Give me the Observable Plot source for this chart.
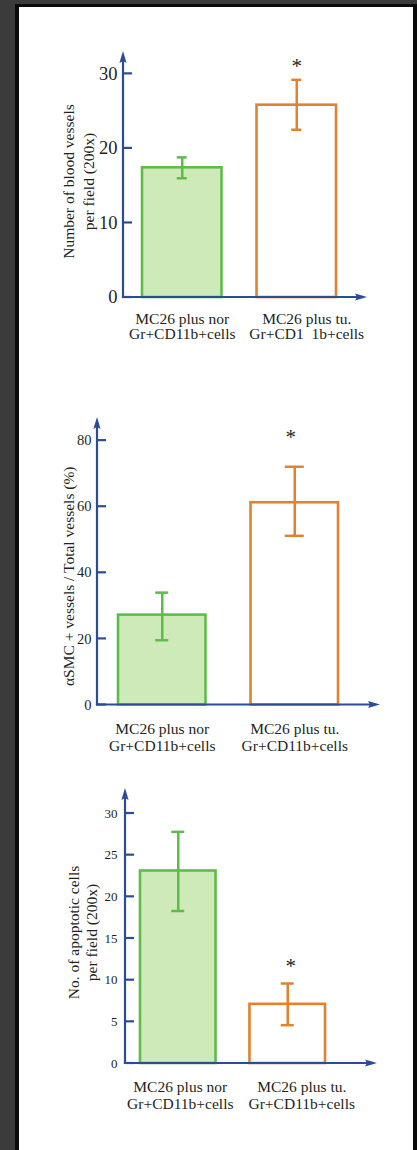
<!DOCTYPE html>
<html><head><meta charset="utf-8">
<script src="https://cdn.jsdelivr.net/npm/d3@7"></script>
<script src="https://cdn.jsdelivr.net/npm/@observablehq/plot@0.6"></script>
<style>
html,body{margin:0;padding:0;background:#3b3b3b;}
body{width:417px;height:1150px;position:relative;overflow:hidden;font-family:"Liberation Serif",serif;}
#edge{position:absolute;left:15px;top:4px;width:402px;height:1146px;background:#0b0b0b;}
#panel{position:absolute;left:19px;top:7px;width:394px;height:1143px;background:#fff;}
.chart{position:absolute;left:0;width:417px;}
.chart svg, .chart svg text{font-family:"Liberation Serif","Times New Roman",serif !important;}
</style></head><body>
<div id="edge"></div><div id="panel"></div>
<div id="c1" class="chart" style="top:0px"></div>
<div id="c2" class="chart" style="top:390px"></div>
<div id="c3" class="chart" style="top:770px"></div>
<script>
// ---------- data ----------
const vesselCategories = ["MC26 plus nor\nGr+CD11b+cells", "MC26 plus tu.\nGr+CD1\u00a0\u00a01b+cells"];
const vesselMeans = [17.4, 25.8];
const vesselLow = [16.0, 22.5];
const vesselHigh = [18.8, 29.2];
const vesselTicks = [0, 10, 20, 30];
const vesselTitle = "Number of blood vessels\nper field (200x)";

const smcCategories = ["MC26 plus nor\nGr+CD11b+cells", "MC26 plus tu.\nGr+CD11b+cells"];
const smcMeans = [27.2, 61.2];
const smcLow = [19.6, 51.2];
const smcHigh = [34.0, 72.1];
const smcTicks = [0, 20, 40, 60, 80];
const smcTitle = "\u03b1SMC + vessels / Total vessels (%)";

const apoCategories = ["MC26 plus nor\nGr+CD11b+cells", "MC26 plus tu.\nGr+CD11b+cells"];
const apoMeans = [23.1, 7.1];
const apoLow = [18.3, 4.6];
const apoHigh = [27.8, 9.6];
const apoTicks = [0, 5, 10, 15, 20, 25, 30];
const apoTitle = "No. of apoptotic cells\nper field (200x)";

const significant = [false, true];

// ---------- styles ----------
const AXIS = "#2b4c98";
const INK = "#231f20";
const barFill = ["#cdeab8", "#ffffff"];
const barStroke = ["#5fbb4a", "#e2812e"];
const FONT = '"Liberation Serif", "Times New Roman", serif';

function rowsOf(cats, means, lo, hi) {
  return cats.map((c, i) => ({cat: c, value: means[i], lo: lo[i], hi: hi[i], sig: significant[i], fill: barFill[i], stroke: barStroke[i], i}));
}

function axesMark(ticks) {
  return (index, scales, values, dims) => {
    const {marginLeft: ml, marginTop: mt, marginBottom: mb, marginRight: mr, width, height} = dims;
    const x0 = ml, y0 = height - mb, xEnd = width - mr, yEnd = mt;
    const g = d3.create("svg:g");
    for (const t of ticks) {
      const y = scales.y(t);
      g.append("line").attr("x1", x0).attr("x2", x0 + 9).attr("y1", y).attr("y2", y)
        .attr("stroke", AXIS).attr("stroke-width", 2.2);
    }
    g.append("line").attr("x1", x0).attr("x2", x0).attr("y1", y0 + 1.1).attr("y2", yEnd + 9)
      .attr("stroke", AXIS).attr("stroke-width", 2.2);
    g.append("line").attr("x1", x0 - 1.1).attr("x2", xEnd - 9).attr("y1", y0).attr("y2", y0)
      .attr("stroke", AXIS).attr("stroke-width", 2.2);
    g.append("path").attr("fill", AXIS)
      .attr("d", `M${x0},${yEnd} L${x0 + 3.6},${yEnd + 12} L${x0},${yEnd + 10} L${x0 - 3.6},${yEnd + 12} Z`);
    g.append("path").attr("fill", AXIS)
      .attr("d", `M${xEnd},${y0} L${xEnd - 12},${y0 - 3.6} L${xEnd - 10},${y0} L${xEnd - 12},${y0 + 3.6} Z`);
    return g.node();
  };
}

function chart(cfg) {
  const rows = rowsOf(cfg.cats, cfg.means, cfg.lo, cfg.hi);
  const n = cfg.cats.length;
  const step = (cfg.xRange[1] - cfg.xRange[0]) / (n - cfg.pad);
  const bw = step * (1 - cfg.pad);
  const caps = [];
  rows.forEach((r, i) => {
    const ins = (bw - cfg.capW[i]) / 2;
    for (const key of ["lo", "hi"]) {
      caps.push(Plot.tickY([r], {x: "cat", y: key, stroke: "stroke", strokeWidth: 2.5, insetLeft: ins, insetRight: ins}));
    }
  });
  return Plot.plot({
    width: 417,
    height: cfg.height,
    marginTop: cfg.mt, marginBottom: cfg.mb, marginLeft: cfg.ml, marginRight: cfg.mr,
    style: {background: "transparent", fontFamily: FONT, color: INK, overflow: "visible"},
    x: {type: "band", domain: cfg.cats, range: cfg.xRange, paddingInner: cfg.pad, paddingOuter: 0, round: false},
    y: {domain: [0, cfg.yMax]},
    color: {type: "identity"},
    marks: [
      Plot.barY(rows, {x: "cat", y: "value", fill: "fill", stroke: "stroke", strokeWidth: 2.6}),
      Plot.ruleX(rows, {x: "cat", y1: "lo", y2: "hi", stroke: "stroke", strokeWidth: 2.5}),
      ...caps,
      Plot.text(rows.filter(d => d.sig), {x: "cat", y: "hi", text: () => "*", fontSize: 21, fontFamily: FONT, fill: INK, dx: cfg.starDx, dy: cfg.starDy, lineAnchor: "middle"}),
      Plot.axisY({ticks: cfg.ticks, tickSize: 0, tickPadding: cfg.tickPad, fontSize: cfg.tickFont, fontFamily: FONT, fill: INK, label: null}),
      Plot.axisX({ticks: [cfg.cats[0]], tickSize: 0, tickPadding: cfg.labPad, fontSize: 15.5, fontFamily: FONT, lineHeight: cfg.labLH, fill: INK, label: null, dx: cfg.lab1Dx}),
      Plot.axisX({ticks: [cfg.cats[1]], tickSize: 0, tickPadding: cfg.labPad, fontSize: 15.5, fontFamily: FONT, lineHeight: cfg.labLH, fill: INK, label: null, dx: cfg.lab2Dx}),
      Plot.text([cfg.title], {text: d => d, frameAnchor: "left", rotate: -90, textAnchor: "middle", lineAnchor: "middle", fontSize: 15.5, fontFamily: FONT, lineHeight: cfg.titleLH, fill: INK, dx: cfg.titleDx, dy: cfg.titleDy}),
      axesMark(cfg.ticks)
    ]
  });
}

document.getElementById("c1").append(chart({
  cats: vesselCategories, means: vesselMeans, lo: vesselLow, hi: vesselHigh, ticks: vesselTicks, title: vesselTitle,
  height: 370, mt: 51, mb: 73, ml: 123, mr: 50, yMax: 33,
  xRange: [142, 336], pad: 0.306, capW: [10, 10],
  tickFont: 18.5, tickPad: 6, labPad: 16, labLH: 0.97, lab1Dx: 0, lab2Dx: 10,
  titleLH: 1.3, titleDx: -46, titleDy: 7, starDx: 0, starDy: -14
}));

document.getElementById("c2").append(chart({
  cats: smcCategories, means: smcMeans, lo: smcLow, hi: smcHigh, ticks: smcTicks, title: smcTitle,
  height: 380, mt: 27, mb: 65.5, ml: 97, mr: 37, yMax: 87,
  xRange: [118, 338], pad: 0.34, capW: [13, 19],
  tickFont: 14.5, tickPad: 6, labPad: 17, labLH: 1.1, lab1Dx: 0, lab2Dx: 0,
  titleLH: 1.2, titleDx: -29, titleDy: 15, starDx: -4, starDy: -29
}));

document.getElementById("c3").append(chart({
  cats: apoCategories, means: apoMeans, lo: apoLow, hi: apoHigh, ticks: apoTicks, title: apoTitle,
  height: 380, mt: 18, mb: 87, ml: 125, mr: 40, yMax: 33,
  xRange: [140, 325], pad: 0.31, capW: [13, 13],
  tickFont: 13, tickPad: 8, labPad: 16, labLH: 1.1, lab1Dx: 2, lab2Dx: 14,
  titleLH: 1.15, titleDx: -43, titleDy: 6.5, starDx: 3, starDy: -17
}));
</script>
</body></html>
